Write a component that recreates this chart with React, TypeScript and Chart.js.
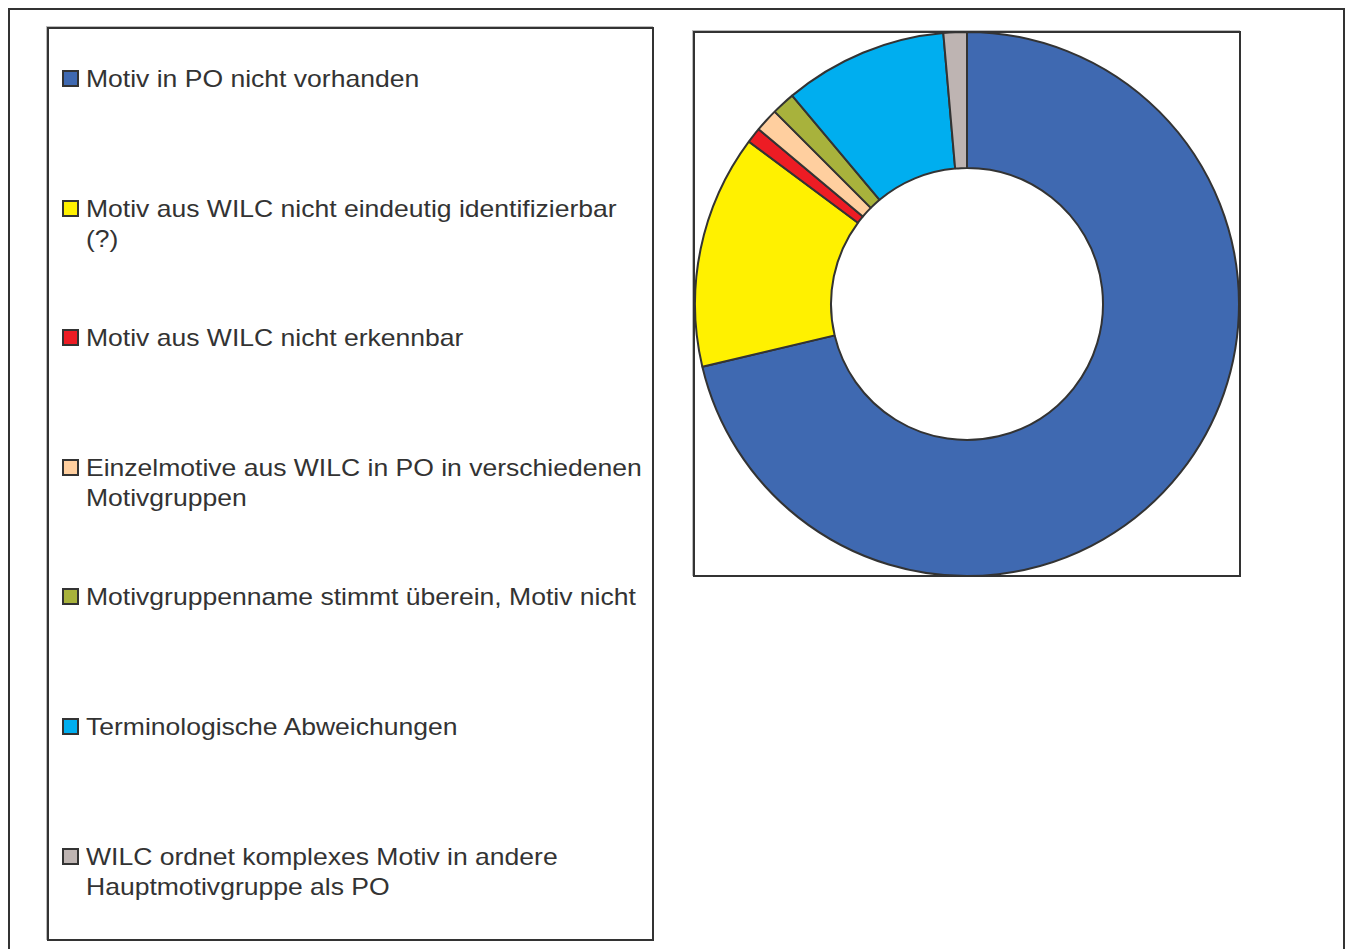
import React, { useEffect, useRef } from "react";
import { Chart, registerables } from "chart.js";

Chart.register(...registerables);

const categories: string[][] = [
  ["Motiv in PO nicht vorhanden"],
  ["Motiv aus WILC nicht eindeutig identifizierbar", "(?)"],
  ["Motiv aus WILC nicht erkennbar"],
  ["Einzelmotive aus WILC in PO in verschiedenen", "Motivgruppen"],
  ["Motivgruppenname stimmt überein, Motiv nicht"],
  ["Terminologische Abweichungen"],
  ["WILC ordnet komplexes Motiv in andere", "Hauptmotivgruppe als PO"],
];

const values: number[] = [154, 30, 2, 3, 3, 21, 3];

const colors: string[] = [
  "#3F69B1",
  "#FFF100",
  "#ED1C24",
  "#FFCF9F",
  "#A8B23C",
  "#00AEEF",
  "#BEB4B2",
];

const FONT = '"Liberation Sans", Arial, Helvetica, sans-serif';
const DARK = "#333333";

export default function App() {
  const canvasRef = useRef<HTMLCanvasElement | null>(null);

  useEffect(() => {
    if (!canvasRef.current) return;
    const chart = new Chart(canvasRef.current, {
      type: "doughnut",
      data: {
        labels: categories.map((c) => c.join(" ")),
        datasets: [
          {
            data: values,
            backgroundColor: colors,
            borderColor: DARK,
            borderWidth: 2,
            borderAlign: "center",
          },
        ],
      },
      options: {
        responsive: false,
        animation: false,
        cutout: "50%",
        layout: { padding: 0 },
        plugins: {
          legend: { display: false },
          tooltip: { enabled: false },
          title: { display: false },
        },
      },
    });
    return () => chart.destroy();
  }, []);

  const abs = (l: number, t: number, w: number, h: number): React.CSSProperties => ({
    position: "absolute",
    left: l,
    top: t,
    width: w,
    height: h,
    boxSizing: "border-box",
  });

  return (
    <div
      style={{
        position: "absolute",
        left: 0,
        top: 0,
        width: 1349,
        height: 949,
        overflow: "hidden",
        background: "#ffffff",
        fontFamily: FONT,
      }}
    >
      {/* outer frame */}
      <div style={{ ...abs(8, 8, 1337, 980), border: `2px solid ${DARK}` }} />
      {/* legend frame */}
      <div
        style={{
          ...abs(47, 27, 607, 914),
          border: `2px solid ${DARK}`,
          boxShadow: "-1px -1px 0 #bbbbbb",
        }}
      />
      {categories.map((lines, i) => {
        const top = 64 + i * 129.6;
        return (
          <div key={i}>
            <div
              style={{
                ...abs(62, top + 6, 17, 17),
                background: colors[i],
                border: `2px solid ${DARK}`,
              }}
            />
            <div
              style={{
                position: "absolute",
                left: 86,
                top,
                fontSize: 24,
                lineHeight: "30px",
                color: "#333333",
                whiteSpace: "nowrap",
                transform: "scaleX(1.105)",
                transformOrigin: "0 0",
              }}
            >
              {lines.map((ln, j) => (
                <div key={j}>{ln}</div>
              ))}
            </div>
          </div>
        );
      })}
      {/* plot frame */}
      <div
        style={{
          ...abs(693, 31, 548, 546),
          border: `2px solid ${DARK}`,
          boxShadow: "-1px -1px 0 #bbbbbb",
        }}
      />
      <canvas
        ref={canvasRef}
        width={548}
        height={546}
        style={{ position: "absolute", left: 693, top: 31, width: 548, height: 546 }}
      />
    </div>
  );
}
